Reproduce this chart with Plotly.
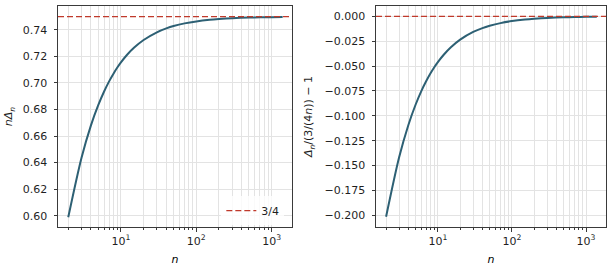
import plotly.graph_objects as go
from plotly.subplots import make_subplots

# values
n_vals = [2, 3, 4, 5, 6, 7, 8, 9, 10, 12, 15, 20, 30, 40, 50, 70, 100, 150,
          200, 300, 500, 700, 1000, 1400]
n_delta = [0.5989, 0.6437, 0.6681, 0.6833, 0.6938, 0.7014, 0.7072, 0.7118,
           0.7155, 0.7211, 0.7267, 0.7324, 0.7382, 0.7411, 0.7429, 0.7449,
           0.7464, 0.7476, 0.7482, 0.7488, 0.7493, 0.7495, 0.7496, 0.7497]
rel_err = [-0.2015, -0.1417, -0.1092, -0.0889, -0.0749, -0.0648, -0.0570,
           -0.0509, -0.0460, -0.0386, -0.0311, -0.0234, -0.0157, -0.0118,
           -0.0095, -0.0068, -0.00476, -0.00317, -0.00238, -0.00159,
           -0.00095, -0.00068, -0.00048, -0.00034]
limit_left = 0.75
limit_right = 0.0
left_yticks = [0.60, 0.62, 0.64, 0.66, 0.68, 0.70, 0.72, 0.74]
right_yticks = [0.0, -0.025, -0.05, -0.075, -0.1, -0.125, -0.15, -0.175, -0.2]
major_x = [10, 100, 1000]
major_x_text = ["10<sup>1</sup>", "10<sup>2</sup>", "10<sup>3</sup>"]
minor_x = [m * d for d in [1, 10, 100, 1000] for m in range(2, 10)
           if m * d <= 1900]

LINE = "#2d6074"
RED = "#c0392b"
FRAME = "#3a3a3a"
GRID = "#e3e3e3"
TXT = "#1f1f1f"
FONT = dict(family="DejaVu Sans", size=11, color=TXT)

fig = make_subplots(rows=1, cols=2, horizontal_spacing=0.15)

fig.add_trace(go.Scatter(x=n_vals, y=n_delta, mode="lines",
                         line=dict(color=LINE, width=2, shape="spline",
                                   smoothing=0.8),
                         showlegend=False), row=1, col=1)
fig.add_trace(go.Scatter(x=[None], y=[None], mode="lines", name="3/4",
                         line=dict(color=RED, width=1.3, dash="6px,3px"),
                         showlegend=True), row=1, col=1)
fig.add_trace(go.Scatter(x=n_vals, y=rel_err, mode="lines",
                         line=dict(color=LINE, width=2, shape="spline",
                                   smoothing=0.8),
                         showlegend=False), row=1, col=2)

fig.add_shape(type="line", xref="x domain", yref="y", x0=0, x1=1,
              y0=limit_left, y1=limit_left,
              line=dict(color=RED, width=1.3, dash="6px,3px"))
fig.add_shape(type="line", xref="x2 domain", yref="y2", x0=0, x1=1,
              y0=limit_right, y1=limit_right,
              line=dict(color=RED, width=1.3, dash="6px,3px"))

xcommon = dict(type="log", range=[0.165, 3.27], tickmode="array",
               tickvals=major_x, ticktext=major_x_text,
               ticks="outside", ticklen=3.5, tickcolor=FRAME, tickwidth=1,
               showline=True, mirror=True, linecolor=FRAME, linewidth=1,
               showgrid=True, gridcolor=GRID, gridwidth=1, zeroline=False,
               minor=dict(tickmode="array", tickvals=minor_x, ticks="outside",
                          ticklen=2, tickcolor=FRAME, showgrid=True,
                          gridcolor=GRID, gridwidth=1),
               title=dict(text="<i>n</i>", standoff=8,
                          font=dict(family="DejaVu Sans", size=11,
                                    color="#000000")),
               tickfont=FONT)
fig.update_xaxes(**xcommon, domain=[0, 0.427], row=1, col=1)
fig.update_xaxes(**xcommon, domain=[0.5803, 1.0], row=1, col=2)

ycommon = dict(ticks="outside", ticklen=3.5, tickcolor=FRAME, tickwidth=1,
               showline=True, mirror=True, linecolor=FRAME, linewidth=1,
               showgrid=True, gridcolor=GRID, gridwidth=1, zeroline=False,
               tickfont=FONT, tickmode="array", ticklabelstandoff=4)
fig.update_yaxes(**ycommon, range=[0.5915, 0.758], tickvals=left_yticks,
                 tickformat=".2f",
                 title=dict(text="<i>n</i><i>Δ</i><sub><i>n</i></sub>",
                            standoff=7, font=FONT), row=1, col=1)
fig.update_yaxes(**ycommon, range=[-0.2118, 0.0104], tickvals=right_yticks,
                 tickformat=".3f",
                 title=dict(text="<i>Δ</i><sub><i>n</i></sub>/(3/(4<i>n</i>)) − 1",
                            standoff=9, font=FONT), row=1, col=2)

fig.update_layout(width=616, height=269,
                  margin=dict(l=58, r=10, t=6, b=42, autoexpand=False),
                  paper_bgcolor="white", plot_bgcolor="white", font=FONT,
                  legend=dict(x=0.413, y=0.074, xanchor="right",
                              yanchor="middle", bgcolor="rgba(255,255,255,0.8)",
                              borderwidth=0, font=FONT, itemwidth=30))

fig.write_html("out.html")
